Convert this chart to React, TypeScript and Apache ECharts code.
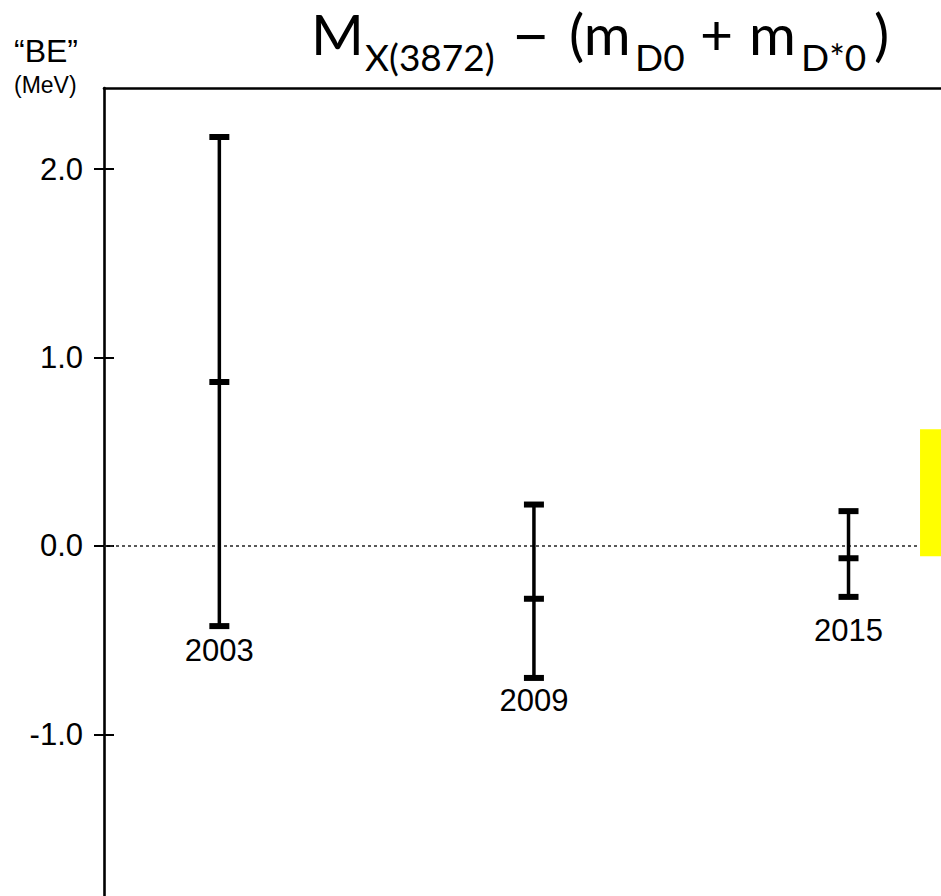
import React, { useEffect, useRef } from "react";
import * as echarts from "echarts";

// ---- data ----
const years = [2003, 2009, 2015];
const centralValues = [0.87, -0.28, -0.065];
const upperValues = [2.17, 0.22, 0.185];
const lowerValues = [-0.425, -0.7, -0.27];
const yTickValues = [-1, 0, 1, 2];
const bandLow = -0.055;
const bandHigh = 0.62;

// axis extents
const X_MIN = 2000.8;
const X_MAX = 2016.764;
const BAND_START = 2016.364;
const Y_MIN = -1.857;
const Y_MAX = 2.43;

const labelGaps = [24, 23, 34];

const SANS = "Liberation Sans, Arial, sans-serif";
const TITLE_FONT = "Lato, sans-serif";

function titlePiece(text: string, x: number, sub: boolean, family: string = TITLE_FONT, central = 0.387) {
  const fontSize = sub ? 37 : 57;
  const baseline = sub ? 70.5 : 55.5;
  const mid = baseline - central * fontSize;
  return {
    type: "text",
    x,
    y: mid,
    style: {
      text,
      fontSize,
      fontFamily: family,
      fill: "#000",
      align: "left",
      verticalAlign: "middle",
      textAlign: "left",
      textVerticalAlign: "middle",
    },
  };
}

export default function App() {
  const ref = useRef<HTMLDivElement>(null);
  useEffect(() => {
    if (!ref.current) return;
    const chart = echarts.init(ref.current, null, { renderer: "svg" });
    const errData = years.map((y, i) => [y, lowerValues[i], centralValues[i], upperValues[i]]);
    const option: any = {
      animation: false,
      backgroundColor: "#ffffff",
      grid: { left: 104, right: 0, top: 88, bottom: 0, containLabel: false },
      xAxis: {
        type: "value",
        position: "top",
        min: X_MIN,
        max: X_MAX,
        axisLine: { show: true, onZero: false, lineStyle: { color: "#000", width: 2.6 } },
        axisTick: { show: false },
        axisLabel: { show: false },
        splitLine: { show: false },
      },
      yAxis: [
        {
          type: "value",
          min: Y_MIN,
          max: Y_MAX,
          axisLine: { show: true, onZero: false, lineStyle: { color: "#000", width: 2.6 } },
          axisTick: {
            show: true,
            inside: false,
            length: 10,
            customValues: yTickValues,
            lineStyle: { color: "#000", width: 2 },
          },
          axisLabel: {
            show: true,
            customValues: yTickValues,
            margin: 21,
            color: "#000",
            fontSize: 31,
            fontFamily: SANS,
            formatter: (v: number) => v.toFixed(1),
          },
          splitLine: { show: false },
        },
        {
          type: "value",
          min: Y_MIN,
          max: Y_MAX,
          position: "left",
          axisLine: { show: false, onZero: false },
          axisTick: {
            show: true,
            inside: true,
            length: 10,
            customValues: yTickValues,
            lineStyle: { color: "#000", width: 2 },
          },
          axisLabel: { show: false },
          splitLine: { show: false },
        },
      ],
      graphic: [
        {
          type: "text",
          x: 14,
          y: 51,
          style: {
            text: "\u201CBE\u201D",
            fontSize: 32,
            fontFamily: SANS,
            fill: "#000",
            align: "left",
            verticalAlign: "middle",
            textAlign: "left",
            textVerticalAlign: "middle",
          },
        },
        {
          type: "text",
          x: 14,
          y: 85,
          style: {
            text: "(MeV)",
            fontSize: 23,
            fontFamily: SANS,
            fill: "#000",
            align: "left",
            verticalAlign: "middle",
            textAlign: "left",
            textVerticalAlign: "middle",
          },
        },
        titlePiece("M", 311, false),
        titlePiece("X(3872)", 365, true),
        titlePiece("\u2212", 514, false, SANS, 0.3465),
        titlePiece("(m", 569, false),
        titlePiece("D0", 635, true),
        titlePiece("+", 700, false),
        titlePiece("m", 749, false),
        titlePiece("D*0", 801, true),
        titlePiece(")", 874, false),
      ],
      series: [
        {
          type: "line",
          data: [
            [X_MIN, 0],
            [BAND_START, 0],
          ],
          symbol: "none",
          silent: true,
          lineStyle: { color: "#222", width: 1.4, type: [3, 3] },
          z: 1,
        },
        {
          type: "custom",
          data: errData,
          z: 3,
          renderItem: (params: any, api: any) => {
            const x = api.value(0);
            const lo = api.coord([x, api.value(1)]);
            const mid = api.coord([x, api.value(2)]);
            const hi = api.coord([x, api.value(3)]);
            const gap = labelGaps[params.dataIndex] ?? 24;
            const cap = (p: number[]) => ({
              type: "rect",
              shape: { x: p[0] - 10, y: p[1] - 3, width: 20, height: 6 },
              style: { fill: "#000" },
            });
            return {
              type: "group",
              children: [
                {
                  type: "line",
                  shape: { x1: hi[0], y1: hi[1], x2: lo[0], y2: lo[1] },
                  style: { stroke: "#000", lineWidth: 3.5 },
                },
                cap(hi),
                cap(mid),
                cap(lo),
                {
                  type: "text",
                  x: lo[0],
                  y: lo[1] + gap,
                  style: {
                    text: String(years[params.dataIndex]),
                    fontSize: 31,
                    fontFamily: SANS,
                    fill: "#000",
                    align: "center",
                    verticalAlign: "middle",
                  },
                },
              ],
            };
          },
          markArea: {
            silent: true,
            itemStyle: { color: "#FFFF00", opacity: 1 },
            data: [[{ coord: [BAND_START, bandLow] }, { coord: [X_MAX, bandHigh] }]],
          },
        },
      ],
    };
    chart.setOption(option);
    return () => chart.dispose();
  }, []);
  return (
    <div
      ref={ref}
      style={{ position: "absolute", left: 0, top: 0, width: 941, height: 896, background: "#fff" }}
    />
  );
}
